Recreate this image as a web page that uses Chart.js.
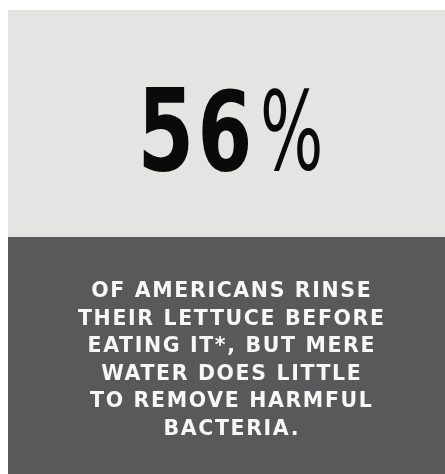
<!DOCTYPE html>
<html>
<head>
<meta charset="utf-8">
<script src="https://cdn.jsdelivr.net/npm/chart.js@4"></script>
<style>
  html, body { margin: 0; padding: 0; background: #ffffff; }
  #statCard { display: block; }
</style>
</head>
<body>
<canvas id="statCard" width="445" height="474"></canvas>
<script>
// stat value and the caption under it
const statLabels = ["Rinse lettuce before eating"];
const statValues = [56];
const statUnit = "%";
const captionLines = [
    "OF AMERICANS RINSE",
    "THEIR LETTUCE BEFORE",
    "EATING IT*, BUT MERE",
    "WATER DOES LITTLE",
    "TO REMOVE HARMFUL",
    "BACTERIA."
];

// draws the two panels, the big number and the caption
const statCardPlugin = {
    id: "statCard",
    beforeDraw(chart) {
        const ctx = chart.ctx;
        const w = chart.width;
        ctx.save();
        ctx.fillStyle = "#ffffff";
        ctx.fillRect(0, 0, w, chart.height);
        ctx.fillStyle = "#e4e4e2";
        ctx.fillRect(8, 10, w - 8, 227);
        ctx.fillStyle = "#59595b";
        ctx.fillRect(8, 237, w - 8, chart.height - 237);
        ctx.restore();
    },
    afterDraw(chart) {
        const ctx = chart.ctx;
        const value = chart.data.datasets[0].data[0];

        // big number, each digit squeezed to look condensed
        ctx.save();
        ctx.fillStyle = "#0a0a0a";
        ctx.textBaseline = "alphabetic";
        ctx.textAlign = "left";
        ctx.font = "bold 114px 'DejaVu Sans Condensed', 'DejaVu Sans', sans-serif";
        const digits = String(value).split("");
        const digitW = 46, digitGap = 13;
        digits.forEach((d, i) => {
            const m = ctx.measureText(d);
            const ink = m.actualBoundingBoxLeft + m.actualBoundingBoxRight;
            const inkH = m.actualBoundingBoxAscent;
            ctx.save();
            ctx.translate(143 + i * (digitW + digitGap), 170);
            ctx.scale(digitW / ink, 83 / inkH);
            ctx.fillText(d, m.actualBoundingBoxLeft, 0);
            ctx.restore();
        });
        ctx.restore();

        // percent sign, lighter weight
        ctx.save();
        ctx.fillStyle = "#0a0a0a";
        ctx.font = "100px 'DejaVu Sans Condensed', 'DejaVu Sans', sans-serif";
        const pm = ctx.measureText(statUnit);
        const pInk = pm.actualBoundingBoxLeft + pm.actualBoundingBoxRight;
        const pH = pm.actualBoundingBoxAscent + pm.actualBoundingBoxDescent;
        ctx.translate(263, 87);
        ctx.scale(57 / pInk, 83 / pH);
        ctx.textBaseline = "alphabetic";
        ctx.fillText(statUnit, pm.actualBoundingBoxLeft, pm.actualBoundingBoxAscent);
        ctx.restore();

        // caption
        ctx.save();
        ctx.fillStyle = "#f7f7f7";
        ctx.textAlign = "center";
        ctx.textBaseline = "middle";
        ctx.font = "bold 20.5px 'DejaVu Sans', sans-serif";
        const longest = captionLines[1];
        const baseW = ctx.measureText(longest).width;
        const spacing = (306 - baseW) / (longest.length - 1);
        ctx.letterSpacing = spacing.toFixed(2) + "px";
        captionLines.forEach((line, i) => {
            ctx.fillText(line, 231 + spacing / 2, 292 + i * 27.5);
        });
        ctx.restore();
    }
};

new Chart(document.getElementById("statCard").getContext("2d"), {
    type: "bar",
    data: {
        labels: statLabels,
        datasets: [{
            label: "Share of Americans (%)",
            data: statValues,
            backgroundColor: "rgba(0,0,0,0)",
            borderWidth: 0
        }]
    },
    options: {
        responsive: false,
        animation: false,
        events: [],
        layout: { padding: 0 },
        plugins: {
            legend: { display: false },
            tooltip: { enabled: false },
            title: { display: false }
        },
        scales: {
            x: { display: false },
            y: { display: false, min: 0, max: 100 }
        }
    },
    plugins: [statCardPlugin]
});
</script>
</body>
</html>
